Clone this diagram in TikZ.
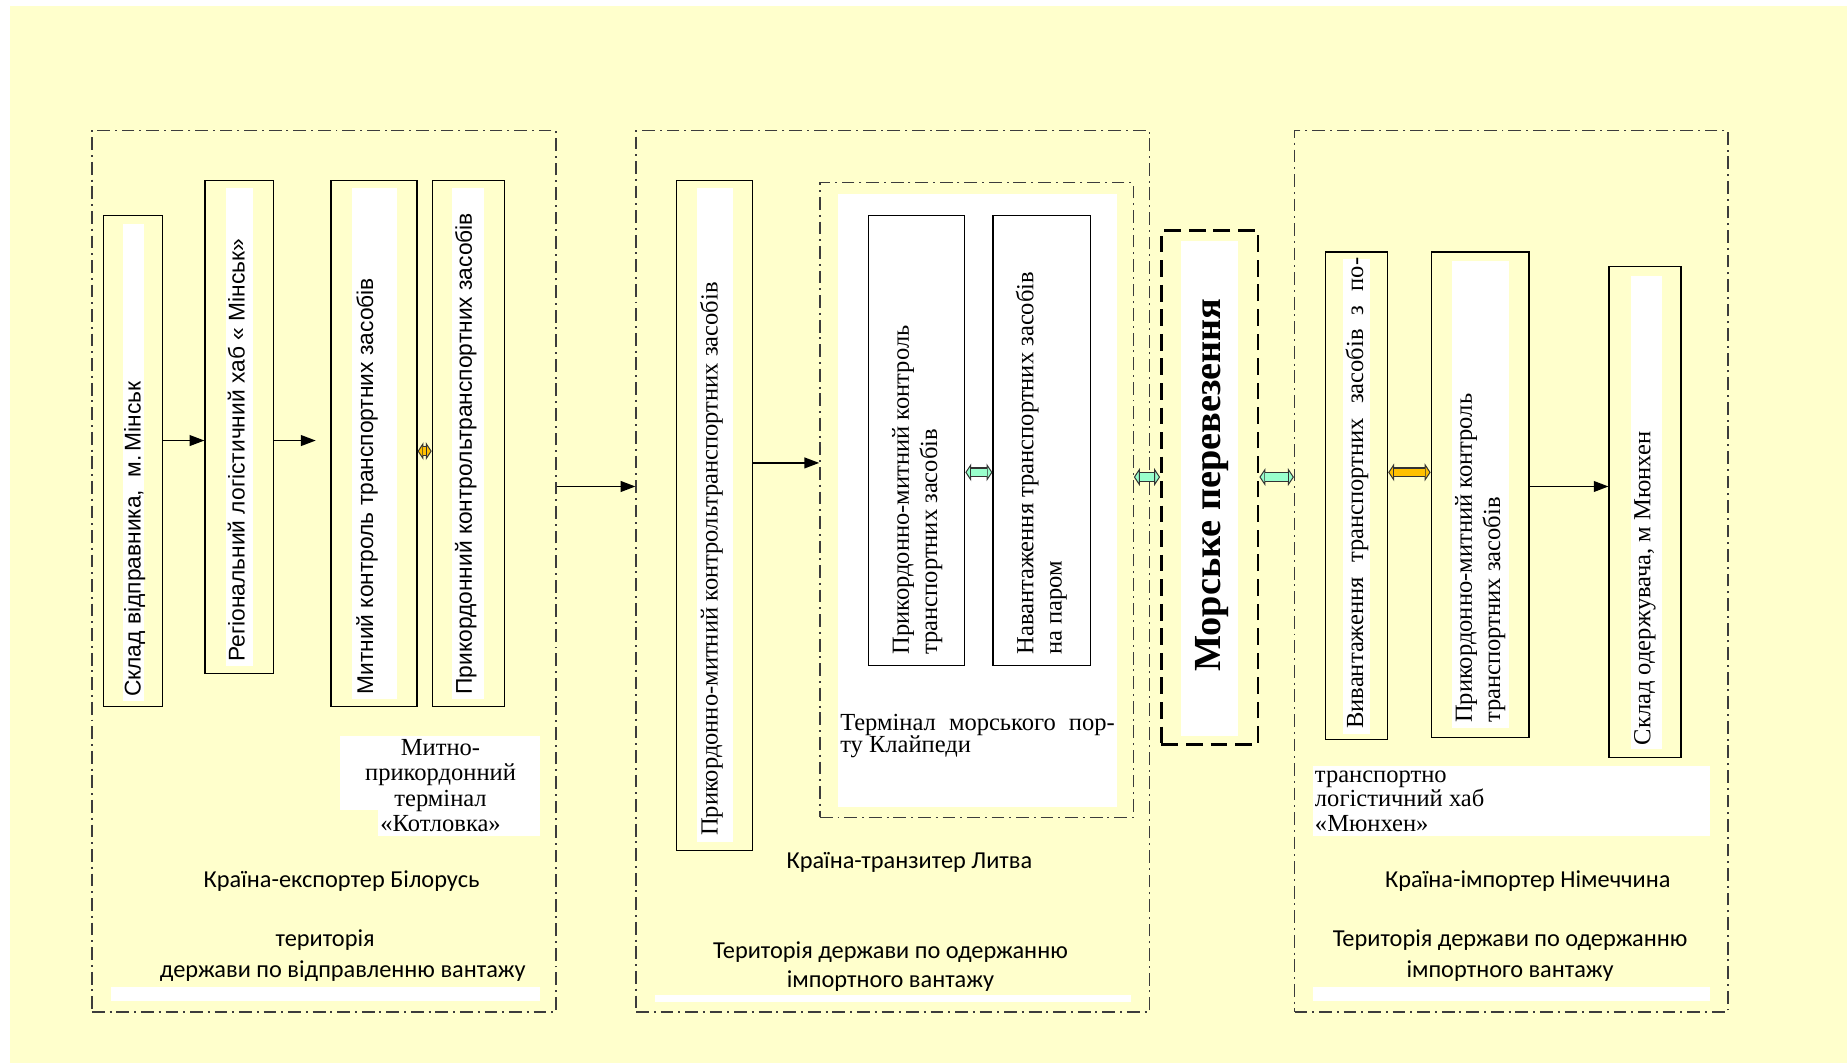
\documentclass[tikz,border=0pt]{standalone}
\usepackage{fontspec}
\setmainfont{Liberation Serif}
\newfontfamily\arialf{Liberation Sans}
\newfontfamily\calibrif{Carlito}
\usetikzlibrary{arrows.meta}
\usetikzlibrary{fit}

\definecolor{bgyellow}{RGB}{255,255,204}
\definecolor{arrorange}{RGB}{255,192,0}
\definecolor{arrgreen}{RGB}{153,255,204}
\definecolor{framegray}{RGB}{60,60,60}

\tikzset{
  zone/.style={draw=framegray, line width=0.7pt, inner sep=0pt,
    dash pattern=on 6.5pt off 2.5pt on 1pt off 2.5pt},
  procbox/.style={draw, line width=0.6pt, inner sep=0pt},
  strip/.style={fill=white},
  vsans/.style={rotate=90, anchor=north west, inner sep=0pt, align=left,
    font=\arialf\fontsize{11.6}{13}\selectfont},
  vserif/.style={rotate=90, anchor=north west, inner sep=0pt, align=left,
    font=\fontsize{12.5}{14.4}\selectfont},
  lbl/.style={inner sep=0pt, font=\calibrif\fontsize{12.4}{14}\selectfont},
  serifnote/.style={inner sep=0pt, font=\fontsize{12.5}{13}\selectfont},
  flow/.style={line width=0.7pt, -{Triangle[length=7.5pt,width=5.5pt]}},
  blockarr/.style={line width=5pt, draw=black!80,
    {Triangle[length=3pt,width=9pt,fill=#1,line width=0.5pt]}-{Triangle[length=3pt,width=9pt,fill=#1,line width=0.5pt]},
    postaction={draw=#1, line width=3.8pt, -, shorten <=3pt, shorten >=3pt}},
}

\begin{document}
\begin{tikzpicture}[x=0.6pt, y=-0.6pt]
\useasboundingbox (0,0) rectangle (1568,902);
\fill[bgyellow] (8.5,5) rectangle (1568,902);

% zones
\node[zone, fit={(78,111) (472,859)}] (zoneBY) {};
\node[zone, fit={(540,111) (976,859)}] (zoneLT) {};
\node[zone, fit={(1099,111) (1467,859)}] (zoneDE) {};

% Belarus
\node[procbox, fit={(88,183) (138,600)}] (skladMinsk) {};
\fill[strip] (104,190) rectangle (122,595);
\node[vsans] at (105,592) {Склад відправника,\ \ м.\,Мінськ};

\node[procbox, fit={(174,153) (232,572)}] (hubMinsk) {};
\fill[strip] (192,160) rectangle (215,565);
\node[vsans] at (193,562) {Регіональний логістичний хаб « Мінськ»};

\node[procbox, fit={(281,153) (354,600)}] (mytnyi) {};
\fill[strip] (299,160) rectangle (337,593);
\node[vsans] at (302,590) {Митний контроль транспортних засобів};

\node[procbox, fit={(367,153) (428,600)}] (prykordBY) {};
\fill[strip] (384,160) rectangle (411,593);
\node[vsans] at (386,590) {Прикордонний контрольтранспортних засобів};

\fill[strip] (289,625) rectangle (458,688);
\fill[strip] (321,688) rectangle (458,710);
\node[serifnote, align=center] (kotlovka) at (374,667) {Митно-\\прикордонний\\термінал\\«Котловка»};

\node[lbl] (nameBY) at (290,748) {Країна-експортер Білорусь};
\node[lbl] at (276,798) {територія};
\node[lbl] at (291,824) {держави по відправленню вантажу};
\fill[strip] (94,838) rectangle (458,850);

% Lithuania
\node[procbox, fit={(574,153) (639,722)}] (kontrLT) {};
\fill[strip] (592,160) rectangle (622,715);
\node[vserif] at (594,710) {Прикордонно-митний контрольтранспортних засобів};

\node[zone, fit={(696,155) (962,694)}] (portKl) {};
\fill[strip] (711,165) rectangle (948,685);
\node[procbox, fit={(737,183) (819,565)}] (kontrPort) {};
\node[vserif] at (757,556) {Прикордонно-митний контроль\\транспортних засобів};
\node[procbox, fit={(843,183) (926,565)}] (parom) {};
\node[vserif] at (862,556) {Навантаження транспортних засобів\\на паром};
\node[serifnote, anchor=north west, align=left, font=\fontsize{12.5}{11.4}\selectfont] (klaipeda) at (713,606)
  {\makebox[139.8pt][s]{Термінал морського пор-}\\ту Клайпеди};

\node[lbl] (nameLT) at (772,732) {Країна-транзитер Литва};
\node[lbl] at (756,808) {Територія держави по одержанню};
\node[lbl] at (756,833) {імпортного вантажу};
\fill[strip] (556,845) rectangle (960,851);

% sea
\node[draw, line width=1.4pt, dash pattern=on 8.5pt off 4pt, inner sep=0pt,
  fit={(986,196) (1068,632)}] (more) {};
\fill[strip] (1003,205) rectangle (1051,625);
\node[rotate=90, inner sep=0pt, font=\bfseries\fontsize{19.5}{22}\selectfont] at (1029,412) {Морське перевезення};

% Germany
\node[procbox, fit={(1125,214) (1178,628)}] (vyvant) {};
\fill[strip] (1140,220) rectangle (1163,623);
\node[vserif] at (1142,619) {\makebox[240pt][s]{Вивантаження транспортних засобів з по-}};

\node[procbox, fit={(1215,214) (1298,626)}] (kontrDE) {};
\fill[strip] (1233,222) rectangle (1281,618);
\node[vserif] at (1235,614) {Прикордонно-митний контроль\\транспортних засобів};

\node[procbox, fit={(1366,226) (1427,643)}] (skladMun) {};
\fill[strip] (1385,234) rectangle (1411,636);
\node[vserif] at (1387,633) {Склад одержувача, м Мюнхен};

\fill[strip] (1115,650) rectangle (1452,710);
\node[serifnote, anchor=north west, align=left, font=\fontsize{12.5}{12.4}\selectfont] (hubMun) at (1116,654)
  {транспортно\\логістичний хаб\\«Мюнхен»};

\node[lbl] (nameDE) at (1297,748) {Країна-імпортер Німеччина};
\node[lbl] at (1282,798) {Територія держави по одержанню};
\node[lbl] at (1282,824) {імпортного вантажу};
\fill[strip] (1115,838) rectangle (1452,850);

% connectors
\coordinate (lvlBY) at (0,374);
\coordinate (endBY) at (268,374);
\coordinate (lvlCD) at (0,383);
\coordinate (lvlZone) at (0,413);
\coordinate (lvlLT) at (0,393);
\coordinate (lvlPort) at (0,401);
\coordinate (lvlSea) at (0,405);
\draw[flow] (skladMinsk.east |- lvlBY) -- (hubMinsk.west |- lvlBY);
\draw[flow] (hubMinsk.east |- lvlBY) -- (endBY);
\draw[blockarr=arrorange] (mytnyi.east |- lvlCD) -- (prykordBY.west |- lvlCD);
\draw[flow] (zoneBY.east |- lvlZone) -- (zoneLT.west |- lvlZone);
\draw[flow] (kontrLT.east |- lvlLT) -- (portKl.west |- lvlLT);
\draw[blockarr=arrgreen] (kontrPort.east |- lvlPort) -- (parom.west |- lvlPort);
\draw[blockarr=arrgreen] (portKl.east |- lvlSea) -- (more.west |- lvlSea);
\draw[blockarr=arrgreen] (more.east |- lvlSea) -- (zoneDE.west |- lvlSea);
\draw[blockarr=arrorange] (vyvant.east |- lvlPort) -- (kontrDE.west |- lvlPort);
\draw[flow] (kontrDE.east |- lvlZone) -- (skladMun.west |- lvlZone);
\end{tikzpicture}
\end{document}
